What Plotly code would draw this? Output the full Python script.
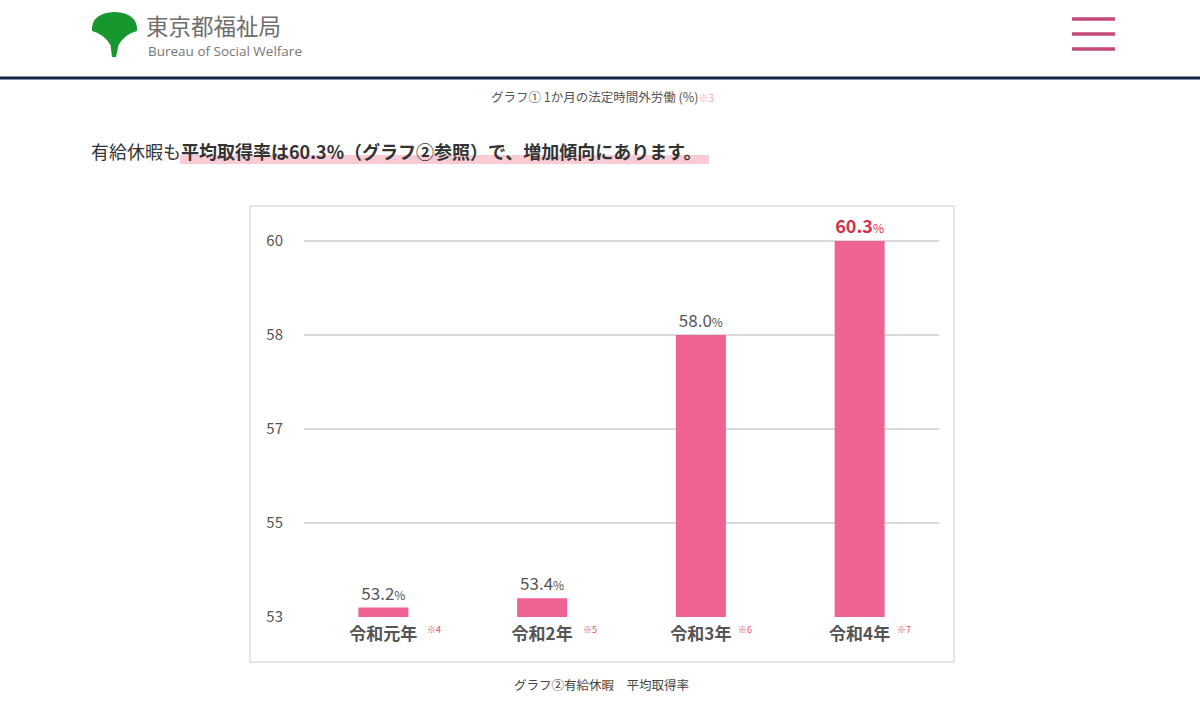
import numpy as np
import plotly.graph_objects as go

# ---- data ----
categories = ["令和元年", "令和2年", "令和3年", "令和4年"]
notes = ["※4", "※5", "※6", "※7"]
values = [53.2, 53.4, 58.0, 60.3]
tick_values = [53, 55, 57, 58, 60]
tick_labels = ["53", "55", "57", "58", "60"]

W, H = 1200, 711
FIG_H = 720  # rendered height (the capture is fitted to 711 rows)
FONT = "Noto Sans CJK JP"

def px(x):
    return x / W

def py(y):
    return 1 - y / H

# the original chart uses evenly spaced (non-linear) ticks: map values onto tick index scale
tick_idx = np.arange(len(tick_values))
def to_scale(v):
    return float(np.interp(v, tick_values, tick_idx))

bar_y = [to_scale(v) for v in values]

def label(v, last):
    if last:
        return f"<b>{v:.1f}</b><span style='font-size:12px'>%</span>"
    return f"{v:.1f}<span style='font-size:12px'>%</span>"

texts = [label(v, i == len(values) - 1) for i, v in enumerate(values)]
text_colors = ["#555555", "#555555", "#555555", "#d4304a"]
text_sizes = [17, 17, 17, 18]

fig = go.Figure()
fig.add_trace(go.Bar(
    x=categories, y=bar_y, width=0.315,
    marker=dict(color="#ee6393", line=dict(width=0)),
    text=texts, textposition="outside", cliponaxis=False,
    textfont=dict(family=FONT, size=text_sizes, color=text_colors),
    hoverinfo="skip",
))

plot_top = 227
plot_bottom = 617
unit = 94.0
fig.update_layout(
    width=W, height=FIG_H,
    margin=dict(l=0, r=0, t=0, b=0),
    paper_bgcolor="white", plot_bgcolor="white",
    showlegend=False,
    font=dict(family=FONT, color="#444444"),
    xaxis=dict(
        domain=[px(304), px(939)], range=[-0.5, 3.5],
        showgrid=False, zeroline=False, showline=False, ticks="",
        tickvals=categories,
        ticktext=[f"<b>{c}</b>" for c in categories],
        tickfont=dict(family=FONT, size=17, color="#555555"),
        ticklabelstandoff=5,
    ),
    yaxis=dict(
        domain=[py(plot_bottom), py(plot_top)],
        range=[0, (plot_bottom - plot_top) / unit],
        tickvals=list(tick_idx), ticktext=tick_labels,
        showgrid=True, gridcolor="#d9d9d9", gridwidth=1.5,
        zeroline=False, showline=False, ticks="",
        tickfont=dict(family=FONT, size=15, color="#555555"),
        ticklabelstandoff=20,
    ),
)

shapes = []
annotations = []

# header: ginkgo logo
def P(x, y):
    return f"{px(x):.5f},{py(y):.5f}"

leaf = (f"M {P(112,57)} L {P(110.5,45)} Q {P(104,34)} {P(92,31)} "
        f"Q {P(91,13)} {P(114.5,12)} Q {P(138,13)} {P(137,31)} "
        f"Q {P(125,34)} {P(118.5,45)} L {P(116,57)} Z")
shapes.append(dict(type="path", xref="paper", yref="paper", path=leaf,
                   fillcolor="#17982f", line=dict(width=0)))
annotations.append(dict(x=px(144), y=py(25), xref="paper", yref="paper",
                        xanchor="left", yanchor="middle", showarrow=False,
                        text="東京都福祉局",
                        font=dict(family=FONT, size=22.5, color="#6e6e6e")))
annotations.append(dict(x=px(146), y=py(51), xref="paper", yref="paper",
                        xanchor="left", yanchor="middle", showarrow=False,
                        text="Bureau of Social Welfare",
                        font=dict(family="Open Sans", size=13.5, color="#777777")))

# hamburger menu
for yy in (19, 34, 49):
    shapes.append(dict(type="line", xref="paper", yref="paper",
                       x0=px(1072), x1=px(1115), y0=py(yy), y1=py(yy),
                       line=dict(color="#c4497b", width=3.5)))

# header rule
shapes.append(dict(type="line", xref="paper", yref="paper",
                   x0=0, x1=1, y0=py(78), y1=py(78),
                   line=dict(color="#15264d", width=3)))

# caption 1
annotations.append(dict(x=px(602), y=py(97), xref="paper", yref="paper",
                        xanchor="center", yanchor="middle", showarrow=False,
                        text="グラフ① 1か月の法定時間外労働 (%)<span style='color:#f2a3b6;font-size:10px'>※3</span>",
                        font=dict(family=FONT, size=12.5, color="#555555")))

# paragraph highlight + text
shapes.append(dict(type="rect", xref="paper", yref="paper",
                   x0=px(180), x1=px(709), y0=py(164), y1=py(155),
                   fillcolor="#f8cbd5", line=dict(width=0), layer="below"))
annotations.append(dict(x=px(89), y=py(151), xref="paper", yref="paper",
                        xanchor="left", yanchor="middle", showarrow=False,
                        text="有給休暇も<b>平均取得率は60.3%（グラフ②参照）で、増加傾向にあります。</b>",
                        font=dict(family=FONT, size=18, color="#333333")))

# chart frame
shapes.append(dict(type="rect", xref="paper", yref="paper",
                   x0=px(250), x1=px(954), y0=py(662), y1=py(206),
                   line=dict(color="#dddddd", width=1.5), fillcolor="rgba(0,0,0,0)",
                   layer="below"))

# notes next to category labels
note_shift = [42, 39, 35, 35]
for c, n, s in zip(categories, notes, note_shift):
    annotations.append(dict(x=c, y=py(629), xref="x", yref="paper",
                            xanchor="left", yanchor="middle", showarrow=False,
                            text=n, xshift=s,
                            font=dict(family=FONT, size=9, color="#e0505e")))

# caption 2
annotations.append(dict(x=px(601), y=py(684), xref="paper", yref="paper",
                        xanchor="center", yanchor="middle", showarrow=False,
                        text="グラフ②有給休暇　平均取得率",
                        font=dict(family=FONT, size=12.5, color="#444444")))

fig.update_layout(shapes=shapes, annotations=annotations)
fig.write_html("out.html", config={"displayModeBar": False})

# remove default page margin so the figure fills the window exactly
with open("out.html", "r", encoding="utf-8") as f:
    html = f.read()
html = html.replace("<head>", "<head><style>html,body{margin:0;padding:0;overflow:hidden;}</style>", 1)
with open("out.html", "w", encoding="utf-8") as f:
    f.write(html)
